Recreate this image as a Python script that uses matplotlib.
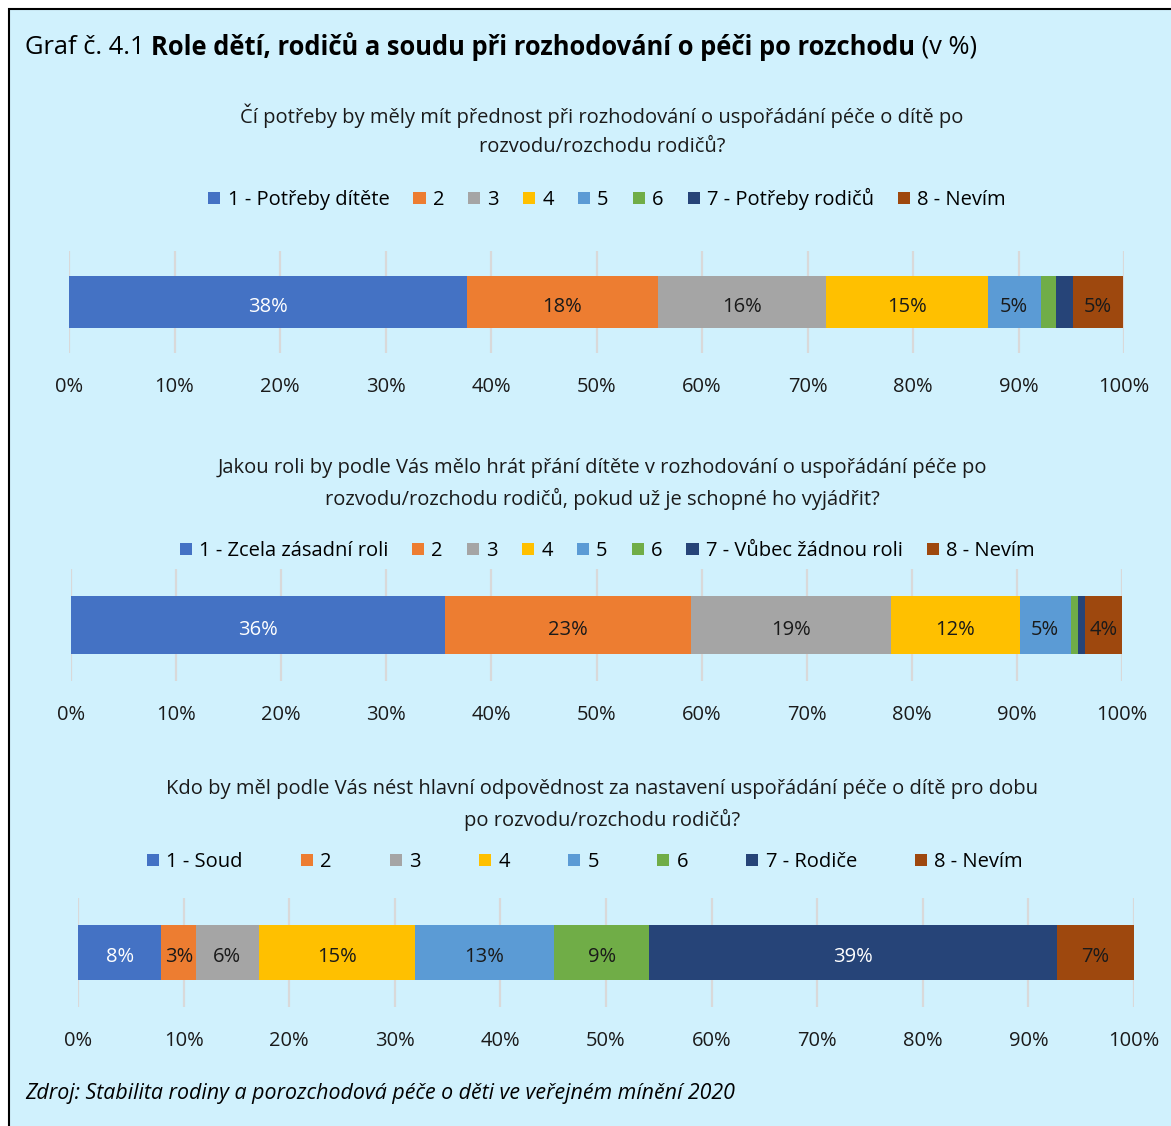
import matplotlib
matplotlib.use("Agg")
import matplotlib.pyplot as plt
from matplotlib.patches import Rectangle

plt.rcParams["font.family"] = ["Open Sans", "DejaVu Sans"]

W, H = 1171, 1126
BG = "#D0F1FD"
colors = ["#4472C4", "#ED7D31", "#A5A5A5", "#FFC000", "#5B9BD5", "#70AD47", "#264478", "#9E480E"]
label_colors = ["white", "#1a1a1a", "#1a1a1a", "#1a1a1a", "#1a1a1a", "#1a1a1a", "white", "#1a1a1a"]

q1_title = "Čí potřeby by měly mít přednost při rozhodování o uspořádání péče o dítě po\nrozvodu/rozchodu rodičů?"
q1_legend = ["1 - Potřeby dítěte", "2", "3", "4", "5", "6", "7 - Potřeby rodičů", "8 - Nevím"]
q1_values = [37.7, 18.1, 16.0, 15.3, 5.0, 1.5, 1.6, 4.7]

q2_title = "Jakou roli by podle Vás mělo hrát přání dítěte v rozhodování o uspořádání péče po\nrozvodu/rozchodu rodičů, pokud už je schopné ho vyjádřit?"
q2_legend = ["1 - Zcela zásadní roli", "2", "3", "4", "5", "6", "7 - Vůbec žádnou roli", "8 - Nevím"]
q2_values = [35.6, 23.4, 19.0, 12.3, 4.8, 0.7, 0.7, 3.6]

q3_title = "Kdo by měl podle Vás nést hlavní odpovědnost za nastavení uspořádání péče o dítě pro dobu\npo rozvodu/rozchodu rodičů?"
q3_legend = ["1 - Soud", "2", "3", "4", "5", "6", "7 - Rodiče", "8 - Nevím"]
q3_values = [7.9, 3.3, 5.9, 14.8, 13.2, 9.0, 38.6, 7.3]

ticks = list(range(0, 101, 10))
tick_labels = [f"{t}%" for t in ticks]

FS = 14.5

fig = plt.figure(figsize=(W / 100, H / 100), dpi=100)
fig.patch.set_facecolor("white")
# panel background with black frame (left/top visible)
fig.patches.append(Rectangle((9 / W, -0.05), 1.1, 1 - 9 / H + 0.05, transform=fig.transFigure,
                             facecolor=BG, edgecolor="black", linewidth=1.5, zorder=-5))


def fx(x):
    return x / W


def fy(y):
    return 1 - y / H


# main title with mixed weights
parts = [("Graf č. 4.1 ", "normal"), ("Role dětí, rodičů a soudu při rozhodování o péči po rozchodu", "bold"),
         (" (v %)", "normal")]
renderer = fig.canvas.get_renderer()
xpos = 25
for txt, wt in parts:
    t = fig.text(fx(xpos), fy(47), txt, fontsize=18.4, fontweight=wt, va="center", ha="left")
    bb = t.get_window_extent(renderer)
    xpos += bb.width

fig.text(fx(25), fy(1093), "Zdroj: Stabilita rodiny a porozchodová péče o děti ve veřejném mínění 2020",
         fontsize=15.4, style="italic", va="center", ha="left")

panels = [
    dict(title=q1_title, leg=q1_legend, vals=q1_values, x0=69, x1=1124, y0=251, y1=353,
         title_y=130, leg_y=199, leg_x=607, colsp=1.2),
    dict(title=q2_title, leg=q2_legend, vals=q2_values, x0=71, x1=1122, y0=569, y1=681,
         title_y=484, leg_y=551, leg_x=607, colsp=1.2),
    dict(title=q3_title, leg=q3_legend, vals=q3_values, x0=78, x1=1134, y0=898, y1=1007,
         title_y=805, leg_y=862, leg_x=585, colsp=2.9),
]

for p in panels:
    ax = fig.add_axes([fx(p["x0"]), fy(p["y1"]), (p["x1"] - p["x0"]) / W, (p["y1"] - p["y0"]) / H])
    ax.set_facecolor("none")
    left = 0
    handles = []
    for v, c, lc, name in zip(p["vals"], colors, label_colors, p["leg"]):
        b = ax.barh(0.5, v, left=left, height=0.51, color=c, label=name, zorder=3)
        handles.append(b)
        if v >= 3:
            ax.text(left + v / 2, 0.48, f"{v:.0f}%", ha="center", va="center_baseline", fontsize=FS,
                    color=lc, zorder=4)
        left += v
    ax.set_xlim(0, 100)
    ax.set_ylim(0, 1)
    ax.set_xticks(ticks)
    ax.set_xticklabels(tick_labels, fontsize=FS, color="#1a1a1a")
    ax.tick_params(axis="x", length=0, pad=17)
    ax.set_yticks([])
    ax.grid(axis="x", color="#D9D9D9", linewidth=1.6, zorder=1)
    for s in ax.spines.values():
        s.set_visible(False)
    fig.text(0.514, fy(p["title_y"]), p["title"], ha="center", va="center", fontsize=FS,
             linespacing=1.6, color="#1a1a1a")
    fig.legend(handles=handles, labels=p["leg"], loc="center", bbox_to_anchor=(fx(p["leg_x"]), fy(p["leg_y"])),
               ncol=8, frameon=False, fontsize=FS, handlelength=0.6, handleheight=0.6,
               handletextpad=0.35, columnspacing=p["colsp"], borderaxespad=0)

fig.savefig("out.png", dpi=100, facecolor=fig.get_facecolor())
